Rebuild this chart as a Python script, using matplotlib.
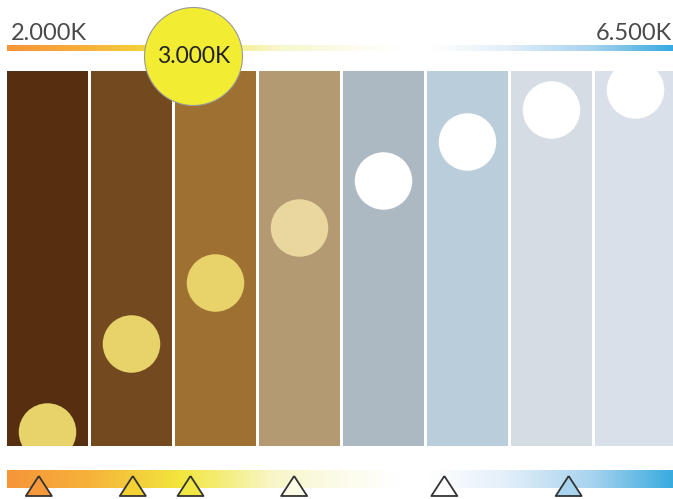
import numpy as np
import matplotlib.pyplot as plt
from matplotlib.colors import LinearSegmentedColormap

# ---- data ----
col_colors = ['#552f10', '#734a20', '#9e7032', '#b39a72',
              '#acb8c2', '#b9cdda', '#d5dce4', '#d9e0e9']
dot_height = [14, 102, 163, 218, 265, 304, 336, 356]  # centre height in column units (0-375)
dot_colors = ['#e8d26a', '#e8d26a', '#e8d26a', '#ead79e',
              '#ffffff', '#ffffff', '#ffffff', '#ffffff']

k_min, k_max = 2000, 6500
label_left, label_right = '2.000K', '6.500K'
current_k = 3260
current_label = '3.000K'

marker_k = [2215, 2850, 3240, 3940, 4955, 5795]
marker_colors = ['#f7993a', '#f5d233', '#f2e844', '#fcfbe6', '#ffffff', '#a9d4f0']

grad_stops = [(0.0, '#f7953a'), (0.12, '#f6b23a'), (0.26, '#f2e63c'),
              (0.40, '#f8f6c8'), (0.52, '#fdfcef'), (0.59, '#ffffff'),
              (0.635, '#ffffff'), (0.75, '#e3eff9'), (0.88, '#a8d3ef'),
              (1.0, '#3aabdf')]

# ---- figure ----
W, H = 673, 499
fig = plt.figure(figsize=(W / 100, H / 100), dpi=100)
fig.patch.set_facecolor('white')


def px_axes(x0, y0, x1, y1):
    # axes from pixel box (top-left origin)
    return fig.add_axes([x0 / W, 1 - y1 / H, (x1 - x0) / W, (y1 - y0) / H])


cmap = LinearSegmentedColormap.from_list('kelvin', grad_stops)
grad = np.linspace(0, 1, 600).reshape(1, -1)

# columns
ax = px_axes(7, 71, 7 + 84 * 8, 446)
idx = np.arange(len(col_colors))
ax.bar(idx, [375] * len(idx), width=81 / 84, align='edge', color=col_colors, linewidth=0)
ax.scatter(idx + 0.5 * 81 / 84, dot_height, s=1714, c=dot_colors, linewidths=0, zorder=3)
ax.set_xlim(0, 8)
ax.set_ylim(0, 375)
ax.axis('off')

# top gradient bar (y in pixels, top = 45)
ax_top = px_axes(7, 45, 673, 51.5)
ax_top.imshow(grad, cmap=cmap, aspect='auto', extent=[k_min, k_max, 51.5, 45])
ax_top.set_xlim(k_min, k_max)
ax_top.set_ylim(51.5, 45)
ax_top.axis('off')
ax_top.scatter([current_k], [56], s=4979, color='#f2ec32', edgecolors='#9a9a9a',
               linewidths=0.8, clip_on=False, zorder=10)
ax_top.text(current_k, 63, current_label, ha='center', va='baseline', fontsize=16.5,
            family='Lato', color='#222222', zorder=11, clip_on=False)

fig.text(11 / W, 1 - 39.5 / H, label_left, ha='left', va='baseline', fontsize=17,
         family='Lato', color='#4a4a4a')
fig.text(672 / W, 1 - 39.5 / H, label_right, ha='right', va='baseline', fontsize=17,
         family='Lato', color='#4a4a4a')

# bottom gradient bar with markers
ax_bot = px_axes(7, 466, 673, 499)
ax_bot.imshow(grad, cmap=cmap, aspect='auto', extent=[k_min, k_max, 22, 4])
ax_bot.set_xlim(k_min, k_max)
ax_bot.set_ylim(33, 0)
ax_bot.axis('off')
tri = [(0, 1), (-1.3, -1), (1.3, -1), (0, 1)]
ax_bot.scatter(marker_k, [20] * len(marker_k), marker=tri, s=350, c=marker_colors,
               edgecolors='#333333', linewidths=1.3, clip_on=False, zorder=5)

fig.savefig('out.png', dpi=100)
